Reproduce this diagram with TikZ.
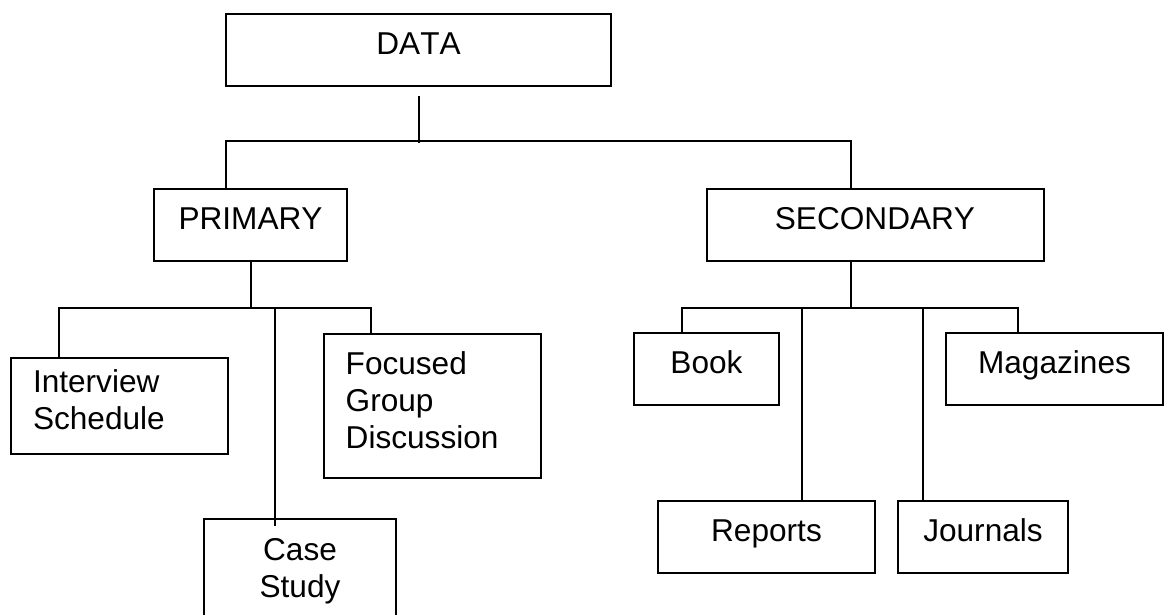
\documentclass[tikz,border=0pt]{standalone}
\usepackage{fontspec}
\setmainfont[Kerning=Off]{Liberation Sans}
\usetikzlibrary{positioning}

\begin{document}
\begin{tikzpicture}[x=0.5pt,y=-0.5pt,line width=1pt,
 font=\fontsize{15.8pt}{18.5pt}\selectfont,
 b/.style={draw,inner sep=0pt,text height=20.2pt,text depth=15.8pt},
 t/.style={draw,inner ysep=0pt,anchor=north west}]
 \useasboundingbox (0,0) rectangle (1168,615);
 \node[b,minimum width=192.5pt](data) at (418.5,50){DATA};
 \node[b,minimum width=96.5pt](prim) at (250.5,225){PRIMARY};
 \node[b,minimum width=168.5pt](sec) at (875,225){SECONDARY};
 \node[t,inner xsep=11pt,text width=86.5pt,align=left,text height=17.1pt,text depth=30.9pt](inter) at (10,357){Interview\\Schedule};
 \node[t,inner xsep=11pt,text width=86.5pt,align=left,text height=20.4pt,text depth=51.6pt](focus) at (322.7,333){Focused\\Group\\Discussion};
 \node[t,inner xsep=0pt,text width=96pt,align=center,text height=20.6pt,text depth=40pt](case) at (203,518){Case\\Study};
 \node[b,minimum width=72.5pt](book) at (706.5,369){Book};
 \node[b,minimum width=108.5pt](mag) at (1054.5,369){Magazines};
 \node[b,minimum width=108.5pt](rep) at (766.5,537){Reports};
 \node[b,minimum width=85pt](jour) at (983,537){Journals};
 % top level
 \draw ([yshift=-4.5pt]data.south) -- (418.5,143);
 \draw (226,141 |- prim.north) -- (226,141) -- (851,141) -- (851,141 |- sec.north);
 % primary
 \draw (prim.south) -- (250.5,308);
 \draw (59,308 |- inter.north) -- (59,308) -- (371,308) -- (371,308 |- focus.north);
 \draw (275,308) -- (275,308 |- case.north) -- ++(0,8);
 % secondary
 \draw (851,308 |- sec.south) -- (851,308);
 \draw (682,308 |- book.north) -- (682,308) -- (1018,308) -- (1018,308 |- mag.north);
 \foreach \n/\x in {rep/802,jour/923}
  \draw (\x,308) -- (\x,308 |- \n.north);
\end{tikzpicture}
\end{document}
